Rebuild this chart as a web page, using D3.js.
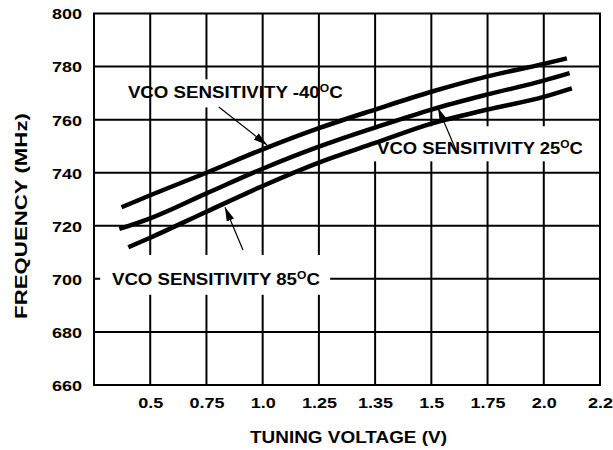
<!DOCTYPE html>
<html>
<head>
<meta charset="utf-8">
<script src="https://cdn.jsdelivr.net/npm/d3@7/dist/d3.min.js"></script>
<style>
  html, body { margin: 0; padding: 0; background: #fff; }
  text { font-family: "Liberation Sans", Arial, Helvetica, sans-serif; font-weight: bold; fill: #000; }
</style>
</head>
<body>
<svg id="chart" width="613" height="450"></svg>
<script>
// ---- data ----
const xTickLabels = ["0.5", "0.75", "1.0", "1.25", "1.35", "1.5", "1.75", "2.0", "2.2"]; // grid positions 1..9
const yTicks = [660, 680, 700, 720, 740, 760, 780, 800];

// x values are positions on the evenly spaced grid (1 = "0.5", 9 = "2.2")
const m40X = [0.49, 1, 2, 3, 4, 5, 6, 7, 8, 8.41];
const m40Y = [727.0, 731.5, 740.0, 748.8, 756.8, 763.8, 770.5, 776.3, 781.0, 783.1];
const p25X = [0.45, 1, 2, 3, 4, 5, 6, 7, 8, 8.46];
const p25Y = [718.8, 722.8, 732.2, 741.5, 749.8, 757.0, 763.8, 769.5, 774.7, 777.5];
const p85X = [0.61, 1, 2, 3, 4, 5, 6, 7, 8, 8.50];
const p85Y = [711.9, 715.5, 725.3, 735.0, 743.8, 751.2, 758.5, 763.8, 768.6, 771.8];

const seriesNames = ["VCO SENSITIVITY -40", "VCO SENSITIVITY 25", "VCO SENSITIVITY 85"];

// ---- layout ----
const svg = d3.select("#chart");
const L = 94, R = 600, T = 13.5, B = 385;
const x = d3.scaleLinear().domain([0, 9]).range([L, R]);
const y = d3.scaleLinear().domain([660, 800]).range([B, T]);

// stretch a text horizontally (in its own direction) around its anchor to a target width
function fitWidth(node, target, ax, ay, base) {
  const w = node.getComputedTextLength();
  const s = target / w;
  node.setAttribute("transform",
    (base || "") + ` translate(${ax},${ay}) scale(${s},1) translate(${-ax},${-ay})`);
}

// grid
const grid = svg.append("g").attr("stroke", "#000").attr("stroke-width", 2);
grid.selectAll("line.v").data(d3.range(1, 9)).join("line")
  .attr("x1", d => x(d)).attr("x2", d => x(d)).attr("y1", T).attr("y2", B);
grid.selectAll("line.h").data(yTicks.slice(1, -1)).join("line")
  .attr("x1", L).attr("x2", R).attr("y1", d => y(d)).attr("y2", d => y(d));
grid.append("rect").attr("x", L).attr("y", T).attr("width", R - L).attr("height", B - T)
  .attr("fill", "none");

// axes (labels only)
const xAxis = d3.axisBottom(x).tickValues(d3.range(1, 10))
  .tickFormat((d, i) => xTickLabels[i]).tickSize(0).tickPadding(0);
const gx = svg.append("g").attr("transform", `translate(0,${B})`).call(xAxis);
gx.select(".domain").remove();
gx.selectAll("text").attr("y", 23).attr("dy", 0)
  .style("font-size", "15px").style("font-family", null).attr("font-family", null)
  .attr("fill", "#000").attr("transform", "scale(1.2,1)");

const yAxis = d3.axisLeft(y).tickValues(yTicks).tickSize(0).tickPadding(0);
const gy = svg.append("g").attr("transform", `translate(${L},0)`).call(yAxis);
gy.select(".domain").remove();
gy.selectAll("text").attr("x", -12 / 1.2).attr("dy", "0.36em")
  .style("font-size", "15px").attr("font-family", null)
  .attr("fill", "#000").attr("transform", "scale(1.2,1)");
gx.attr("font-family", null); gy.attr("font-family", null);

// axis titles
const xt = svg.append("text").attr("x", 348.5).attr("y", 443).attr("text-anchor", "middle")
  .style("font-size", "16px").text("TUNING VOLTAGE (V)");
fitWidth(xt.node(), 197, 348.5, 443);
const yt = svg.append("text").attr("x", 0).attr("y", 0).attr("text-anchor", "middle")
  .style("font-size", "17px").text("FREQUENCY (MHz)");
fitWidth(yt.node(), 206, 0, 0, "translate(27,216) rotate(-90)");

// label annotations (positions in data coordinates)
const labels = [
  { name: seriesNames[0], box: [1.10, 2.80, 775.2, 764.6], textX: 0.603, textY: 768.0, width: 215,
    arrow: [2.22, 764.8, 3.08, 750.4] },
  { name: seriesNames[1], box: [4.82, 8.91, 757.5, 744.3], textX: 5.035, textY: 747.1, width: 206,
    arrow: [6.46, 747.4, 6.12, 764.4] },
  { name: seriesNames[2], box: [0.11, 4.20, 709.0, 694.0], textX: 0.32, textY: 697.7, width: 208,
    arrow: [2.65, 710.9, 2.33, 727.0] }
];

svg.append("g").selectAll("rect").data(labels).join("rect")
  .attr("x", d => x(d.box[0])).attr("y", d => y(d.box[2]))
  .attr("width", d => x(d.box[1]) - x(d.box[0])).attr("height", d => y(d.box[3]) - y(d.box[2]))
  .attr("fill", "#fff");

// curves
const line = d3.line().x(d => x(d[0])).y(d => y(d[1])).curve(d3.curveMonotoneX);
const series = [
  d3.zip(m40X, m40Y),
  d3.zip(p25X, p25Y),
  d3.zip(p85X, p85Y)
];
svg.append("g").selectAll("path").data(series).join("path")
  .attr("d", line).attr("fill", "none").attr("stroke", "#000")
  .attr("stroke-width", 4.5).attr("stroke-linecap", "butt");

// arrows
svg.append("defs").append("marker").attr("id", "ah")
  .attr("viewBox", "0 0 14 8").attr("refX", 14).attr("refY", 4)
  .attr("markerWidth", 14).attr("markerHeight", 8).attr("markerUnits", "userSpaceOnUse")
  .attr("orient", "auto")
  .append("path").attr("d", "M0,0 L14,4 L0,8 Z").attr("fill", "#000");

svg.append("g").selectAll("line").data(labels).join("line")
  .attr("x1", d => x(d.arrow[0])).attr("y1", d => y(d.arrow[1]))
  .attr("x2", d => x(d.arrow[2])).attr("y2", d => y(d.arrow[3]))
  .attr("stroke", "#000").attr("stroke-width", 1.2).attr("marker-end", "url(#ah)");

// label texts
const lt = svg.append("g").selectAll("text").data(labels).join("text")
  .attr("x", d => x(d.textX)).attr("y", d => y(d.textY)).style("font-size", "17px");
lt.append("tspan").text(d => d.name);
lt.append("tspan").attr("dy", -6).style("font-size", "11px").text("O");
lt.append("tspan").attr("dy", 6).text("C");
lt.each(function (d) { fitWidth(this, d.width, x(d.textX), y(d.textY)); });
</script>
</body>
</html>
